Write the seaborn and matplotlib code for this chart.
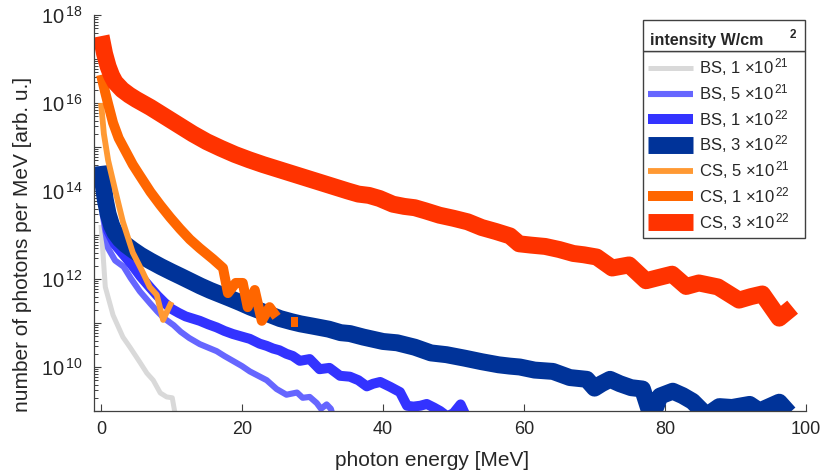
import numpy as np
import pandas as pd
import matplotlib
matplotlib.use("Agg")
import matplotlib.pyplot as plt
from matplotlib.lines import Line2D
from matplotlib.patches import Rectangle
from matplotlib.ticker import FixedLocator, FuncFormatter, LogLocator, NullFormatter
import seaborn as sns

# Photon spectra: energy [MeV] and log10 of photons per MeV [arb. u.]
# BS = bremsstrahlung, CS = Compton scattering, for several laser intensities
bs_1e21_E = [0, 0.6, 1.7, 3.1, 4.1, 5.5, 6.5, 7.4, 8.4, 9.3, 10.1, 10.6]
bs_1e21_logN = [13.23, 11.82, 11.18, 10.68, 10.45, 10.11, 9.86, 9.70, 9.41, 9.32, 9.30, 8.85]

bs_5e21_E = [0.2, 1, 2, 3.2, 4.2, 5.5, 7, 8, 9, 10.3, 11.3, 12.5, 14, 15.2, 16.4, 17.5,
             18.7, 20, 21.1, 22.3, 23.5, 24.9, 26.3, 27.8, 28.6, 29.6, 30.6, 31.2, 32.0,
             32.6, 33.2]
bs_5e21_logN = [13.5, 12.7, 12.42, 12.28, 12.02, 11.72, 11.44, 11.26, 11.1, 10.95, 10.8,
                10.66, 10.52, 10.44, 10.36, 10.25, 10.14, 10.02, 9.9, 9.8, 9.7, 9.5, 9.37,
                9.42, 9.3, 9.32, 9.18, 9.05, 9.15, 9.05, 8.7]

bs_1e22_E = [0.3, 1, 2, 3.2, 4.2, 5.6, 7, 8, 9, 10, 11, 12, 13, 14, 15.2, 16.4, 17.5, 18.7,
             20, 21.1, 22.5, 23.5, 24.4, 25.3, 26.3, 27.2, 28.2, 29.6, 31, 32.4, 33.9, 35.3,
             36.5, 37.7, 38.6, 39.6, 41, 42.4, 43.4, 44.3, 45.3, 46.2, 47.2, 48.1, 49.1,
             50.0, 51.0, 52.0]
bs_1e22_logN = [13.9, 13.1, 12.78, 12.55, 12.36, 12.06, 11.8, 11.62, 11.46, 11.32, 11.23,
                11.15, 11.1, 11.05, 10.97, 10.9, 10.82, 10.75, 10.69, 10.64, 10.53, 10.48,
                10.42, 10.38, 10.3, 10.25, 10.14, 10.18, 9.95, 9.98, 9.8, 9.78, 9.7, 9.56,
                9.62, 9.66, 9.55, 9.43, 9.12, 9.1, 9.12, 9.16, 9.08, 9.0, 8.88, 8.95, 9.15,
                8.8]

bs_3e22_E = [0, 0.3, 0.6, 1.0, 1.5, 2.0, 2.7, 3.5, 4.5, 5.6, 7, 8.5, 10, 11.3, 12.7, 14.1,
             15.5, 16.9, 18.3, 19.8, 21.2, 23, 25.4, 27, 28.3, 30, 32.3, 34, 35.3, 37.2, 40,
             42, 44.5, 46.8, 49, 51.6, 54, 56.4, 58, 59.4, 61.5, 64.1, 66.5, 68.9, 70, 71,
             72.2, 73.6, 75.2, 76.8, 78.1, 79.3, 81.1, 82.5, 83.9, 85.9, 87.7, 89.5, 92,
             93.4, 94.8, 96.2, 97.6]
bs_3e22_logN = [14.57, 14.15, 13.8, 13.48, 13.22, 13.05, 12.9, 12.78, 12.66, 12.54, 12.41,
                12.28, 12.16, 12.06, 11.95, 11.84, 11.74, 11.65, 11.56, 11.46, 11.36, 11.25,
                11.1, 11.03, 10.98, 10.93, 10.86, 10.78, 10.76, 10.68, 10.58, 10.55, 10.45,
                10.32, 10.28, 10.2, 10.12, 10.05, 10.02, 10.0, 9.93, 9.9, 9.76, 9.72, 9.52,
                9.62, 9.72, 9.62, 9.53, 9.5, 8.85, 9.34, 9.45, 9.35, 9.22, 8.9, 9.1, 9.08,
                9.15, 9.0, 9.1, 9.2, 8.95]

cs_5e21_E = [0, 0.4, 1.0, 2.0, 3.1, 4.5, 5.9, 6.9, 7.9, 8.8, 10.0]
cs_5e21_logN = [16.0, 15.3, 14.7, 14.02, 13.3, 12.6, 12.16, 11.82, 11.64, 11.07, 11.48]

cs_1e22_E = [0, 0.5, 1.0, 1.7, 2.5, 3.5, 4.5, 5.5, 7.0, 8.4, 9.8, 11.2, 12.6, 14.0, 15.9,
             17.3, 18.0, 19.1, 20.1, 20.8, 21.8, 22.8, 23.9, 24.9, 26.0, 26.9, 28.0]
cs_1e22_logN = [16.64, 16.3, 15.98, 15.55, 15.2, 14.9, 14.6, 14.35, 13.98, 13.68, 13.4,
                13.14, 12.9, 12.7, 12.45, 12.25, 11.68, 11.91, 11.91, 11.36, 11.75, 11.05,
                11.36, 11.14, np.nan, 11.02, 11.02]

cs_3e22_E = [0, 0.5, 1.0, 1.5, 2.0, 3.0, 4.0, 5.0, 7.0, 9.0, 11, 13, 15, 17, 19, 21, 23,
             25, 27, 29, 31, 33, 35, 36.5, 38, 39.5, 41.4, 43, 44.5, 46, 48, 50, 52, 54,
             56, 58, 59.3, 61, 63, 65, 67, 68.5, 70.3, 72.5, 74.9, 77.3, 79, 81, 83, 84.8,
             87.5, 90.5, 92.2, 93.8, 96.2, 98.1]
cs_3e22_logN = [17.52, 17.12, 16.83, 16.62, 16.47, 16.3, 16.18, 16.08, 15.9, 15.7, 15.5,
                15.3, 15.12, 14.97, 14.83, 14.71, 14.6, 14.5, 14.4, 14.3, 14.2, 14.1, 14.0,
                13.93, 13.9, 13.83, 13.7, 13.65, 13.62, 13.55, 13.45, 13.38, 13.3, 13.17,
                13.08, 12.98, 12.8, 12.77, 12.74, 12.67, 12.58, 12.55, 12.5, 12.25, 12.32,
                11.96, 12.03, 12.11, 11.83, 11.91, 11.82, 11.52, 11.6, 11.66, 11.11, 11.36]

labels = ["BS, 1 \u00d710$^{\\,21}$", "BS, 5 \u00d710$^{\\,21}$", "BS, 1 \u00d710$^{\\,22}$",
          "BS, 3 \u00d710$^{\\,22}$", "CS, 5 \u00d710$^{\\,21}$", "CS, 1 \u00d710$^{\\,22}$",
          "CS, 3 \u00d710$^{\\,22}$"]
energies = [bs_1e21_E, bs_5e21_E, bs_1e22_E, bs_3e22_E, cs_5e21_E, cs_1e22_E, cs_3e22_E]
log_counts = [bs_1e21_logN, bs_5e21_logN, bs_1e22_logN, bs_3e22_logN,
              cs_5e21_logN, cs_1e22_logN, cs_3e22_logN]

# line styling per series
colors = ["#d9d9d9", "#6666ff", "#3333ff", "#003399", "#ff9933", "#ff6600", "#ff3300"]
widths = [3.6, 4.4, 7.2, 12.2, 4.2, 7.2, 12.2]

sns.set_theme(style="ticks")
plt.rcParams["font.family"] = ["Liberation Sans", "DejaVu Sans"]
plt.rcParams["mathtext.fontset"] = "custom"
plt.rcParams["mathtext.rm"] = "Liberation Sans"
plt.rcParams["mathtext.it"] = "Liberation Sans:italic"
plt.rcParams["mathtext.bf"] = "Liberation Sans:bold"

W, H = 823, 475
fig = plt.figure(figsize=(W / 100, H / 100), dpi=100)
ax = fig.add_axes([94 / W, (H - 411) / H, 712 / W, 396 / H])

handles = []
for lab, E, logN, c, lw in zip(labels, energies, log_counts, colors, widths):
    df = pd.DataFrame({"E": E, "N": np.power(10.0, np.asarray(logN, dtype=float))})
    df["seg"] = df["N"].isna().cumsum()
    df = df.dropna()
    sns.lineplot(data=df, x="E", y="N", units="seg", estimator=None, sort=False,
                 color=c, linewidth=lw, ax=ax, legend=False,
                 solid_capstyle="butt", solid_joinstyle="round")
    handles.append(Line2D([], [], color=c, linewidth=lw, solid_capstyle="butt"))

ax.set_yscale("log")
ax.set_xlim(-1, 100)
ax.set_ylim(1e9, 1e18)
ax.set_xticks([0, 20, 40, 60, 80, 100])

ax.yaxis.set_major_locator(FixedLocator([10.0 ** k for k in range(9, 19)]))
ax.yaxis.set_major_formatter(FuncFormatter(
    lambda v, pos: ("10$^{\\,%d}$" % round(np.log10(v))) if round(np.log10(v)) % 2 == 0 else ""))
ax.yaxis.set_minor_locator(LogLocator(base=10, subs=np.arange(2, 10), numticks=30))
ax.yaxis.set_minor_formatter(NullFormatter())

ink = "#262626"
edge = "#404040"
for side in ("top", "right"):
    ax.spines[side].set_visible(False)
for side in ("left", "bottom"):
    ax.spines[side].set_color(edge)
    ax.spines[side].set_linewidth(0.9)
ax.tick_params(axis="both", which="major", direction="in", length=5, width=0.8,
               color=edge, labelcolor=ink)
ax.tick_params(axis="y", which="major", labelsize=14.5, pad=8)
ax.tick_params(axis="x", which="major", labelsize=13, pad=7)
ax.tick_params(axis="y", which="minor", direction="in", length=3, width=0.7, color=edge)

ax.set_xlabel("photon energy [MeV]", fontsize=15, color=ink)
ax.set_ylabel("number of photons per MeV [arb. u.]", fontsize=15, color=ink)
ax.xaxis.set_label_coords((432.5 - 94) / 712, (411 - 451) / 396)
ax.yaxis.set_label_coords((32 - 94) / 712, (411 - 244) / 396)

# legend: a title cell on top of the entry box
box_x0, box_x1 = 643, 805
title_top, title_bot, box_bot = 20, 51, 237
fig.add_artist(Rectangle((box_x0 / W, 1 - title_bot / H), (box_x1 - box_x0) / W,
                         (title_bot - title_top) / H, transform=fig.transFigure,
                         facecolor="white", edgecolor=edge, linewidth=1.0, zorder=5))
fig.text((box_x0 + 7) / W, 1 - 45 / H, "intensity W/cm", fontsize=11.5,
         fontweight="bold", color=ink, va="baseline", zorder=6)
fig.text((box_x1 - 9) / W, 1 - 29 / H, "2", fontsize=8.5, fontweight="bold",
         color=ink, ha="right", va="top", zorder=6)

leg = ax.legend(handles, labels, loc="upper left", mode="expand",
                bbox_to_anchor=(box_x0 / W, 1 - box_bot / H, (box_x1 - box_x0) / W,
                                (box_bot - title_bot) / H),
                bbox_transform=fig.transFigure, borderaxespad=0, fontsize=12,
                frameon=True, fancybox=False, edgecolor=edge, framealpha=1,
                handlelength=2.7, handletextpad=0.35, labelspacing=0.23, borderpad=0.32)
leg.get_frame().set_linewidth(1.0)
for t in leg.get_texts():
    t.set_color(ink)

fig.savefig("out.png", dpi=100)
